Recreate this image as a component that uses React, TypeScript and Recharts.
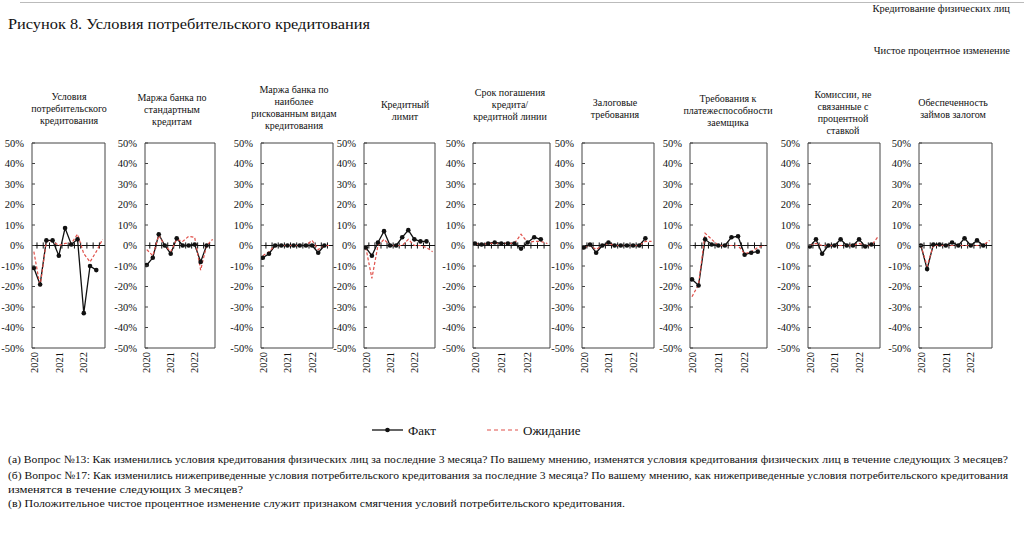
import React from 'react';
import { LineChart, Line, XAxis, YAxis, ReferenceLine, ReferenceArea } from 'recharts';

// quarters 2020Q1..2022Q4; "Факт" stops one quarter earlier than "Ожидание"
const QUARTERS = [
  '2020 Q1', '2020 Q2', '2020 Q3', '2020 Q4',
  '2021 Q1', '2021 Q2', '2021 Q3', '2021 Q4',
  '2022 Q1', '2022 Q2', '2022 Q3', '2022 Q4',
];
const Y_TICKS = [-50, -40, -30, -20, -10, 0, 10, 20, 30, 40, 50];

const FACT_CONDITIONS = [-11, -19, 2.5, 2.5, -5, 8.5, 0.5, 3, -33, -10, -12];
const EXP_CONDITIONS = [-3, -20, 2, 2, 0, 1, 1, 5.5, -4, -8, -3, 3];

const FACT_MARGIN_STD = [-9.5, -6, 5.5, 0, -4, 3.5, 0, 0, 0.5, -8, 0];
const EXP_MARGIN_STD = [-2, -5, 5, 0, -3, 3, 2, 4.5, 4, -12, 0, 3];

const FACT_MARGIN_RISK = [-6, -4, 0, 0, 0, 0, 0, 0, 0, -3.5, 0];
const EXP_MARGIN_RISK = [-5, -3, 0, 0, 0, 0, 0, 0, 2.5, -2, 0, 0];

const FACT_LIMIT = [-1, -5, 1.5, 7, 0, 0, 4, 7.5, 3, 2, 2];
const EXP_LIMIT = [-1, -16, 0, 3, 0, 0, 0, 3, 0, 0, -1, -3];

const FACT_MATURITY = [1, 0.5, 1, 1.5, 1, 1, 1, -1.5, 1.5, 4, 3];
const EXP_MATURITY = [1, 0.5, 1, 1, 1, 1, 1, 5.5, 1.5, 2, 2, 1];

const FACT_COLLATERAL = [-1, 0.5, -3.5, 0, 1.5, 0, 0, 0, 0, 0, 3.5];
const EXP_COLLATERAL = [-1, 0, -2, 0, 1, 0, 0, 0, 0, 0, 2, 2];

const FACT_SOLVENCY = [-16.5, -19.5, 3, 0.5, 0, 0, 4, 4.5, -4.5, -3.5, -3];
const EXP_SOLVENCY = [-25, -19, 6, 3, 0, 0, 0, 0, -4, -3, -1, 0];

const FACT_FEES = [-0.5, 3, -4, 0, 0, 3, 0, 0, 3, -0.5, 0.5];
const EXP_FEES = [0, 1, 0, 0, 0, 0, 0, 0, 1, 0, 0, 4];

const FACT_SECURED = [0, -11.5, 0.5, 0.5, 0, 1.5, 0, 3.5, 0, 2.5, 0];
const EXP_SECURED = [0, -10, 0, 0, 0, 0, 0, 0, 0, 0, 0, 2.5];

const TITLES = [
  ['Условия', 'потребительского', 'кредитования'],
  ['Маржа банка по', 'стандартным', 'кредитам'],
  ['Маржа банка по', 'наиболее', 'рискованным видам', 'кредитования'],
  ['Кредитный', 'лимит'],
  ['Срок погашения', 'кредита/', 'кредитной линии'],
  ['Залоговые', 'требования'],
  ['Требования к', 'платежеспособности', 'заемщика'],
  ['Комиссии, не', 'связанные с', 'процентной', 'ставкой'],
  ['Обеспеченность', 'займов залогом'],
];
const FACTS = [FACT_CONDITIONS, FACT_MARGIN_STD, FACT_MARGIN_RISK, FACT_LIMIT, FACT_MATURITY,
  FACT_COLLATERAL, FACT_SOLVENCY, FACT_FEES, FACT_SECURED];
const EXPS = [EXP_CONDITIONS, EXP_MARGIN_STD, EXP_MARGIN_RISK, EXP_LIMIT, EXP_MATURITY,
  EXP_COLLATERAL, EXP_SOLVENCY, EXP_FEES, EXP_SECURED];

// layout of the panels (plot box left edge / width, title centre)
const BOX_LEFT = [32, 145, 261, 364, 473, 582, 690, 808, 919];
const BOX_WIDTH = [73, 70, 72, 71, 77, 72, 77, 72, 73];
const TITLE_X = [69, 172, 294, 405, 510, 615, 728, 843, 953];
const TITLE_Y = [109, 110, 108, 111, 104.5, 109, 110.5, 113, 108.5];

const FONT = '"Liberation Serif", "DejaVu Serif", serif';
const YW = 34;
const TOP = 135;
const X_DOMAIN: [number, number] = [-0.3, 11.4];
const FACT_COLOR = '#111111';
const EXP_COLOR = '#e0504a';

const yearTicks = QUARTERS.map((q, i) => (q.endsWith('Q1') ? i : -1)).filter((i) => i >= 0);
const boundaries = QUARTERS.slice(1).map((_, i) => i + 0.5);

function YTick(props: any) {
  const { x, y, payload } = props;
  return (
    <g>
      <text x={x} y={y} dy="0.35em" textAnchor="end" fontSize={10.5} fontFamily={FONT} fill="#111">
        {payload.value}%
      </text>
      <line x1={x + 8} x2={x + 11} y1={y} y2={y} stroke="#444" />
    </g>
  );
}

function XTick(props: any) {
  const { x, y, payload } = props;
  return (
    <g transform={`translate(${x},${y})`}>
      <text transform="rotate(-90)" textAnchor="end" dy="0.35em" fontSize={10.5} fontFamily={FONT} fill="#111">
        {QUARTERS[payload.value].slice(0, 4)}
      </text>
    </g>
  );
}

function Panel({ k }: { k: number }) {
  const fact = FACTS[k];
  const exp = EXPS[k];
  const data = QUARTERS.map((q, i) => ({ i, q, fact: i < fact.length ? fact[i] : null, exp: exp[i] }));
  const w = YW + BOX_WIDTH[k] + 2;
  return (
    <div style={{ position: 'absolute', left: BOX_LEFT[k] - YW, top: TOP }}>
      <LineChart width={w} height={255} data={data} margin={{ top: 8, right: 2, left: 0, bottom: 0 }}>
        <XAxis
          dataKey="i"
          type="number"
          domain={X_DOMAIN}
          ticks={yearTicks}
          interval={0}
          allowDataOverflow
          axisLine={false}
          tickLine={false}
          tickSize={0}
          tickMargin={4}
          height={42}
          tick={<XTick />}
        />
        <YAxis
          type="number"
          domain={[-50, 50]}
          ticks={Y_TICKS}
          interval={0}
          width={YW}
          axisLine={false}
          tickSize={0}
          tickMargin={8}
          tick={<YTick />}
        />
        <ReferenceArea x1={X_DOMAIN[0]} x2={X_DOMAIN[1]} y1={-50} y2={50} fill="none" stroke="#444" strokeWidth={1} ifOverflow="visible" />
        <ReferenceLine y={0} stroke="#111" strokeWidth={1} />
        {boundaries.map((b) => (
          <ReferenceLine key={b} segment={[{ x: b, y: -1.5 }, { x: b, y: 1.5 }]} stroke="#111" strokeWidth={1} />
        ))}
        <Line type="linear" dataKey="fact" stroke={FACT_COLOR} strokeWidth={1.3} dot={{ r: 2.3, fill: FACT_COLOR, stroke: FACT_COLOR, strokeWidth: 0 }} isAnimationActive={false} />
        <Line type="linear" dataKey="exp" stroke={EXP_COLOR} strokeWidth={1.2} strokeDasharray="3 2" dot={false} isAnimationActive={false} />
      </LineChart>
      <div />
    </div>
  );
}

function Title({ k }: { k: number }) {
  const lines = TITLES[k];
  const lh = 12;
  return (
    <div
      style={{
        position: 'absolute',
        left: TITLE_X[k] - 60,
        width: 120,
        top: TITLE_Y[k] - (lines.length * lh) / 2,
        textAlign: 'center',
        fontFamily: FONT,
        fontSize: 10,
        lineHeight: `${lh}px`,
        color: '#111',
      }}
    >
      {lines.map((l) => (
        <div key={l}>{l}</div>
      ))}
    </div>
  );
}

const NOTES = [
  { text: '(а) Вопрос №13: Как изменились условия кредитования физических лиц за последние 3 месяца? По вашему мнению, изменятся условия кредитования физических лиц в течение следующих 3 месяцев?', y: 463, len: 1000 },
  { text: '(б) Вопрос №17: Как изменились нижеприведенные условия потребительского кредитования за последние 3 месяца? По вашему мнению, как нижеприведенные условия потребительского кредитования', y: 479, len: 1000 },
  { text: 'изменятся в течение следующих 3 месяцев?', y: 493, len: 235 },
  { text: '(в) Положительное чистое процентное изменение служит признаком смягчения условий потребительского кредитования.', y: 507, len: 617 },
];

export default function App() {
  return (
    <div style={{ position: 'absolute', left: 0, top: 0, width: 1024, height: 540, background: '#fff', overflow: 'hidden' }}>
      <svg width={1024} height={540} style={{ position: 'absolute', left: 0, top: 0 }}>
        <line x1={20} x2={1024} y1={2.5} y2={2.5} stroke="#bbb" strokeWidth={1} />
        <text x={1010} y={12} textAnchor="end" fontFamily={FONT} fontSize={10.5} fill="#111">Кредитование физических лиц</text>
        <text x={8} y={29} fontFamily={FONT} fontSize={14} fill="#111" textLength={362} lengthAdjust="spacingAndGlyphs">
          Рисунок 8. Условия потребительского кредитования
        </text>
        <text x={1010} y={54} textAnchor="end" fontFamily={FONT} fontSize={10.5} fill="#111">Чистое процентное изменение</text>
        {/* legend */}
        <line x1={372} x2={403} y1={430} y2={430} stroke={FACT_COLOR} strokeWidth={1.3} />
        <circle cx={387.5} cy={430} r={2.3} fill={FACT_COLOR} />
        <text x={408} y={434.5} fontFamily={FONT} fontSize={13} fill="#111">Факт</text>
        <line x1={487} x2={518} y1={430} y2={430} stroke={EXP_COLOR} strokeWidth={1.2} strokeDasharray="4 3" />
        <text x={523} y={434.5} fontFamily={FONT} fontSize={13} fill="#111">Ожидание</text>
        {NOTES.map((n) => (
          <text key={n.y} x={8} y={n.y} fontFamily={FONT} fontSize={11} fill="#111" textLength={n.len} lengthAdjust="spacingAndGlyphs">
            {n.text}
          </text>
        ))}
      </svg>
      {TITLES.map((_, k) => (
        <Title key={`t${k}`} k={k} />
      ))}
      {TITLES.map((_, k) => (
        <Panel key={`p${k}`} k={k} />
      ))}
    </div>
  );
}
